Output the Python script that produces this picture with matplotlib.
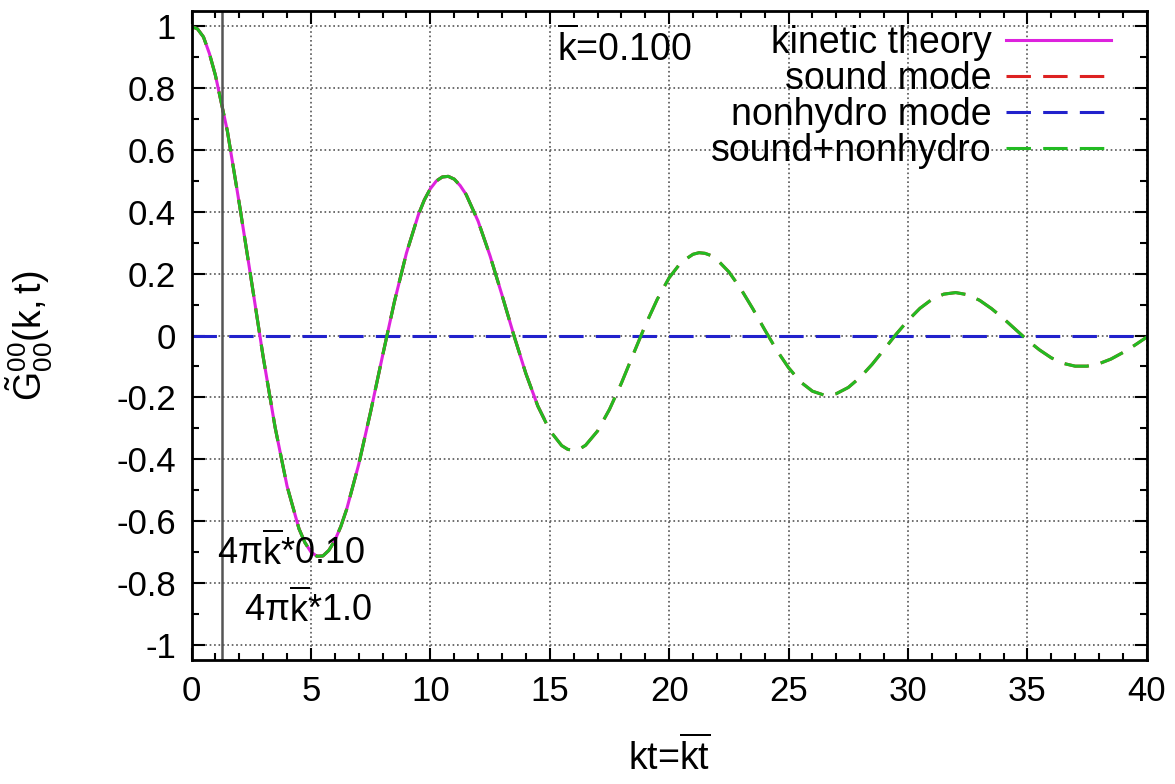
import matplotlib
matplotlib.use('Agg')
import matplotlib.pyplot as plt
from matplotlib.ticker import MultipleLocator
import numpy as np

# values
t_mode = [0.0, 0.25, 0.5, 0.75, 1.0, 1.5, 2.0, 2.5, 3.0, 3.5, 4.0, 4.5, 4.75,
          5.0, 5.25, 5.5, 5.75, 6.0, 6.25, 6.5, 7.0, 7.5, 8.0, 8.5, 9.0, 9.5, 9.75,
          10.0, 10.25, 10.5, 10.75, 11.0, 11.25, 11.5, 12.0, 12.5, 13.0, 13.5, 14.0, 14.5,
          15.0, 15.5, 15.75, 16.0, 16.25, 16.5, 17.0, 17.5, 18.0, 18.5, 19.0, 19.5,
          20.0, 20.5, 21.0, 21.25, 21.5, 21.75, 22.0, 22.5, 23.0, 23.5, 24.0, 24.5,
          25.0, 25.5, 26.0, 26.5, 26.75, 27.0, 27.5, 28.0, 28.5, 29.0, 29.5,
          30.0, 30.5, 31.0, 31.5, 32.0, 32.5, 33.0, 33.5, 34.0, 34.5,
          35.0, 35.5, 36.0, 36.5, 37.0, 37.5, 38.0, 38.5, 39.0, 39.5, 40.0]
g_sound = [1.000, 0.992, 0.966, 0.912, 0.842, 0.662, 0.427, 0.181, -0.069, -0.297, -0.487, -0.625, -0.670,
           -0.700, -0.714, -0.713, -0.695, -0.663, -0.618, -0.561, -0.417, -0.246, -0.065, 0.111, 0.267, 0.391, 0.439,
           0.475, 0.500, 0.513, 0.515, 0.506, 0.485, 0.456, 0.370, 0.258, 0.131, 0.000, -0.123, -0.228,
           -0.307, -0.356, -0.368, -0.372, -0.367, -0.355, -0.309, -0.239, -0.154, -0.060, 0.033, 0.117,
           0.187, 0.237, 0.263, 0.268, 0.266, 0.259, 0.246, 0.206, 0.151, 0.087, 0.019, -0.047,
           -0.104, -0.150, -0.180, -0.193, -0.192, -0.188, -0.168, -0.135, -0.093, -0.045, 0.004,
           0.049, 0.088, 0.117, 0.134, 0.139, 0.132, 0.114, 0.087, 0.055, 0.020,
           -0.015, -0.046, -0.072, -0.090, -0.099, -0.099, -0.091, -0.076, -0.055, -0.031, -0.005]
g_nonhydro = [0.0] * len(t_mode)
g_total = g_sound

t_kin = [0.0, 0.25, 0.5, 0.75, 1.0, 1.5, 2.0, 2.5, 3.0, 3.5, 4.0, 4.5, 4.75,
         5.0, 5.25, 5.5, 5.75, 6.0, 6.25, 6.5, 7.0, 7.5, 8.0, 8.5, 9.0, 9.5, 9.75,
         10.0, 10.25, 10.5, 10.75, 11.0, 11.25, 11.5, 12.0, 12.5, 13.0, 13.5, 14.0, 14.5, 14.76]
g_kin = [1.000, 0.992, 0.966, 0.912, 0.842, 0.662, 0.427, 0.181, -0.069, -0.297, -0.487, -0.625, -0.670,
         -0.700, -0.714, -0.713, -0.695, -0.663, -0.618, -0.561, -0.417, -0.246, -0.065, 0.111, 0.267, 0.391, 0.439,
         0.475, 0.500, 0.513, 0.515, 0.506, 0.485, 0.456, 0.370, 0.258, 0.131, 0.000, -0.123, -0.228, -0.268]

kbar = 0.100
t_mark = 4 * np.pi * kbar

plt.rcParams['font.family'] = ['Liberation Sans', 'DejaVu Sans']
plt.rcParams['mathtext.fontset'] = 'custom'
plt.rcParams['mathtext.rm'] = 'Liberation Sans'
plt.rcParams['mathtext.it'] = 'Liberation Sans'
plt.rcParams['font.size'] = 25
big = 27

fig = plt.figure(figsize=(11.75, 7.84), dpi=100)
ax = fig.add_axes([0.163, 0.158, 0.813, 0.828])

dash = (0, (8, 4))
lw = 2.2
ax.plot(t_kin, g_kin, color='#dd22dd', lw=lw, label='kinetic theory')
ax.plot(t_mode, g_sound, color='#dd2222', lw=lw, ls=dash, label='sound mode')
ax.plot(t_mode, g_nonhydro, color='#2222cc', lw=lw, ls=dash, label='nonhydro mode')
ax.plot(t_mode, g_total, color='#22bb22', lw=lw, ls=dash, label='sound+nonhydro')

ax.axvline(t_mark, color='#555555', lw=1.8)

ax.set_xlim(0, 40)
ax.set_ylim(-1.05, 1.05)
ax.xaxis.set_major_locator(MultipleLocator(5))
ax.xaxis.set_minor_locator(MultipleLocator(1))
ax.yaxis.set_minor_locator(MultipleLocator(0.1))
ax.set_yticks(np.round(np.arange(-1, 1.01, 0.2), 1))
ax.set_yticklabels(['-1', '-0.8', '-0.6', '-0.4', '-0.2', '0', '0.2', '0.4', '0.6', '0.8', '1'])
ax.tick_params(which='both', direction='in', top=True, right=True, width=1.5)
ax.tick_params(which='major', length=9, pad=11)
ax.tick_params(which='minor', length=5)
for s in ax.spines.values():
    s.set_linewidth(2)

ax.grid(True, which='major', ls=':', color='#555555', lw=1.2)

ax.set_xlabel(r'kt=$\overline{\mathrm{kt}}$', fontsize=big, labelpad=20)
ax.set_ylabel(r'$\tilde{\mathrm{G}}^{00}_{00}\mathrm{(k,t)}$', fontsize=big)
ax.yaxis.set_label_coords(-0.143, 0.5)

ax.text(15.3, 0.93, r'$\overline{\mathrm{k}}$=0.100', va='center', ha='left', fontsize=big)
ax.text(1.05, -0.70, r'4$\pi\overline{\mathrm{k}}$*0.10', va='center', ha='left', fontsize=26)
ax.text(2.2, -0.885, r'4$\pi\overline{\mathrm{k}}$*1.0', va='center', ha='left', fontsize=26)

ax.legend(loc='upper right', bbox_to_anchor=(0.963, 0.978), frameon=False,
          markerfirst=False, handlelength=2.8, handletextpad=0.4, fontsize=big,
          labelspacing=0.0, borderaxespad=0, borderpad=0)

fig.savefig('out.png', dpi=100)
